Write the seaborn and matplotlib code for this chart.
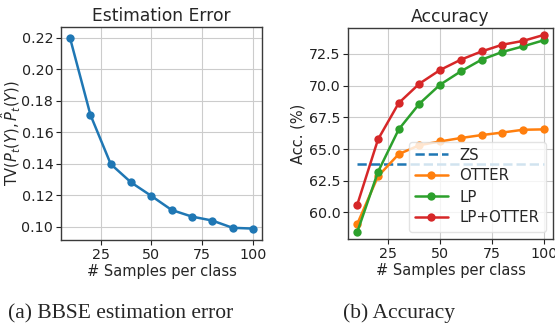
import matplotlib
matplotlib.use("Agg")
import matplotlib.pyplot as plt
import seaborn as sns
import pandas as pd

# Samples per class
samples = [10, 20, 30, 40, 50, 60, 70, 80, 90, 100]

# BBSE total-variation estimation error
tv_error = [0.2195, 0.171, 0.1398, 0.1282, 0.1196, 0.1107, 0.1065, 0.104, 0.0994, 0.0989]

# Accuracy (%)
zs_acc = 63.8
otter_acc = [59.1, 62.85, 64.6, 65.3, 65.6, 65.87, 66.1, 66.3, 66.52, 66.55]
lp_acc = [58.46, 63.2, 66.55, 68.58, 70.08, 71.13, 72.05, 72.66, 73.1, 73.58]
lp_otter_acc = [60.62, 65.76, 68.63, 70.16, 71.24, 72.05, 72.7, 73.23, 73.53, 74.0]

methods = ["OTTER", "LP", "LP+OTTER"]
colors = {"ZS": "#1f77b4", "OTTER": "#ff7f0e", "LP": "#2ca02c", "LP+OTTER": "#d62728"}

sns.set_style("whitegrid", {
    "axes.edgecolor": "#3a3a3a",
    "grid.color": "#cccccc",
    "xtick.bottom": True,
    "ytick.left": True,
})
plt.rcParams["font.family"] = ["DejaVu Sans"]
plt.rcParams["axes.linewidth"] = 1.0
plt.rcParams["xtick.major.size"] = 3.5
plt.rcParams["ytick.major.size"] = 3.5
plt.rcParams["xtick.color"] = "#222222"
plt.rcParams["ytick.color"] = "#222222"

fig = plt.figure(figsize=(5.55, 3.29), dpi=100)
ax1 = fig.add_axes([61 / 555, 1 - 240 / 329, 201 / 555, 213 / 329])
ax2 = fig.add_axes([348 / 555, 1 - 239 / 329, 205 / 555, 211 / 329])

tick_fs = 10.3
label_fs = 10.5
title_fs = 12.3

# Estimation error panel
df_err = pd.DataFrame({"samples": samples, "tv": tv_error})
sns.lineplot(data=df_err, x="samples", y="tv", ax=ax1, color=colors["ZS"],
             marker="o", markersize=6, markeredgewidth=0, linewidth=1.8)
ax1.set_title("Estimation Error", fontsize=title_fs, pad=4)
ax1.set_xlabel("# Samples per class", fontsize=label_fs, labelpad=2)
ax1.set_ylabel(r"TV$(P_t(Y), \hat{P}_t(Y))$", fontsize=label_fs)
ax1.yaxis.set_label_coords(-0.19, 0.5)
ax1.set_xticks([25, 50, 75, 100])
ax1.set_yticks([0.10, 0.12, 0.14, 0.16, 0.18, 0.20, 0.22])
ax1.set_yticklabels([f"{v:.2f}" for v in [0.10, 0.12, 0.14, 0.16, 0.18, 0.20, 0.22]])
ax1.tick_params(labelsize=tick_fs, pad=2)
ax1.margins(x=0.05, y=0.06)

# Accuracy panel
df_acc = pd.DataFrame({
    "samples": samples * 3,
    "acc": otter_acc + lp_acc + lp_otter_acc,
    "method": [m for m in methods for _ in samples],
})
ax2.plot(samples, [zs_acc] * len(samples), linestyle="--", color=colors["ZS"],
         linewidth=1.8, label="ZS")
sns.lineplot(data=df_acc, x="samples", y="acc", hue="method", hue_order=methods,
             palette=colors, ax=ax2, marker="o", markersize=6, markeredgewidth=0,
             linewidth=1.8, dashes=False)
ax2.set_title("Accuracy", fontsize=title_fs, pad=4)
ax2.set_xlabel("# Samples per class", fontsize=label_fs, labelpad=2)
ax2.set_ylabel("Acc. (%)", fontsize=label_fs, labelpad=2)
ax2.set_xticks([25, 50, 75, 100])
ax2.set_yticks([60.0, 62.5, 65.0, 67.5, 70.0, 72.5])
ax2.set_yticklabels([f"{v:.1f}" for v in [60.0, 62.5, 65.0, 67.5, 70.0, 72.5]])
ax2.tick_params(labelsize=tick_fs, pad=2)
ax2.margins(x=0.05)
ax2.set_ylim(57.9, 74.55)
leg = ax2.legend(loc="lower right", fontsize=10.8, framealpha=0.8,
                 handlelength=2.2, borderpad=0.4, labelspacing=0.4)
leg.get_frame().set_edgecolor("#dddddd")

# Sub-figure captions
fig.text(8 / 555, 1 - 318 / 329, "(a) BBSE estimation error", fontsize=15.5,
         family="Liberation Serif", va="baseline", ha="left")
fig.text(343 / 555, 1 - 318 / 329, "(b) Accuracy", fontsize=15.5,
         family="Liberation Serif", va="baseline", ha="left")

fig.savefig("out.png", dpi=100)
